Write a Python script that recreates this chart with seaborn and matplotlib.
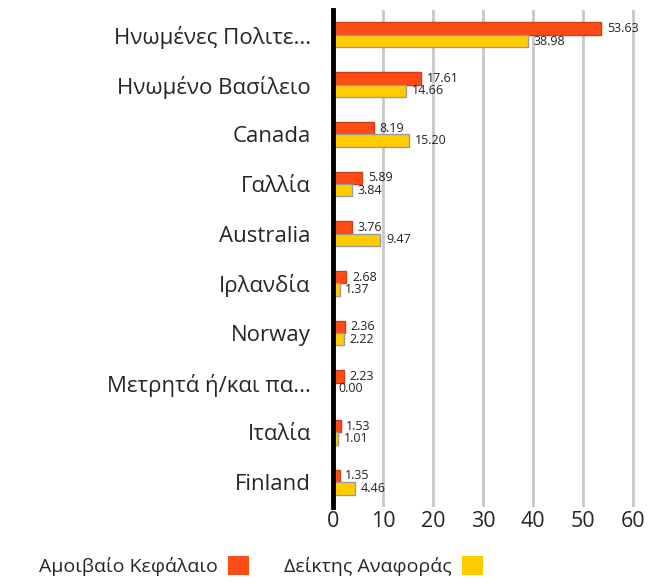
import pandas as pd
import seaborn as sns
import matplotlib.pyplot as plt
from matplotlib.patches import Patch

# chart values
countries = ['Ηνωμένες Πολιτε...', 'Ηνωμένο Βασίλειο', 'Canada', 'Γαλλία', 'Australia',
             'Ιρλανδία', 'Norway', 'Μετρητά ή/και πα...', 'Ιταλία', 'Finland']
fund = [53.63, 17.61, 8.19, 5.89, 3.76, 2.68, 2.36, 2.23, 1.53, 1.35]
benchmark = [38.98, 14.66, 15.20, 3.84, 9.47, 1.37, 2.22, 0.00, 1.01, 4.46]
series_names = ['Αμοιβαίο Κεφάλαιο', 'Δείκτης Αναφοράς']
colors = ['#FF4B14', '#FFCC00']
edges = ['#C8401A', '#9A9A9A']

data = pd.DataFrame({
    'country': countries * 2,
    'value': fund + benchmark,
    'series': [series_names[0]] * len(countries) + [series_names[1]] * len(countries),
})

sns.set_style('white')
plt.rcParams['font.family'] = ['Open Sans', 'DejaVu Sans']

fig = plt.figure(figsize=(6.7, 5.83), dpi=100)
ax = fig.add_axes([333 / 670, 1 - 507 / 583, 302.5 / 670, 497 / 583])

sns.barplot(data=data, y='country', x='value', hue='series', orient='h',
            palette=colors, saturation=1, width=0.5, ax=ax, legend=False, zorder=3)

for i, container in enumerate(ax.containers):
    for bar in container:
        bar.set_edgecolor(edges[i])
        bar.set_linewidth(1)
    ax.bar_label(container, fmt='%.2f', padding=4, fontsize=9, color='#222222')

ax.set_xlim(0, 60.5)
ax.set_xticks(range(0, 61, 10))
ax.set_xlabel('')
ax.set_ylabel('')
ax.grid(axis='x', color='#C8C8C8', linewidth=2, zorder=0)
ax.grid(axis='y', visible=False)
ax.set_axisbelow(True)
for s in ['top', 'right', 'bottom']:
    ax.spines[s].set_visible(False)
ax.spines['left'].set_color('black')
ax.spines['left'].set_linewidth(3.5)
ax.spines['left'].set_zorder(5)
ax.tick_params(axis='both', length=0)
ax.tick_params(axis='y', labelsize=16, pad=16)
ax.tick_params(axis='x', labelsize=15.5, pad=3)

handles = [Patch(facecolor=c, edgecolor='none') for c in colors]
fig.legend(handles, series_names, loc='center', bbox_to_anchor=(0.39, 0.029), ncol=2,
           frameon=False, markerfirst=False, fontsize=14, handlelength=1.1,
           handleheight=1.1, handletextpad=0.5, columnspacing=1.8)

fig.savefig('out.png', dpi=100)
